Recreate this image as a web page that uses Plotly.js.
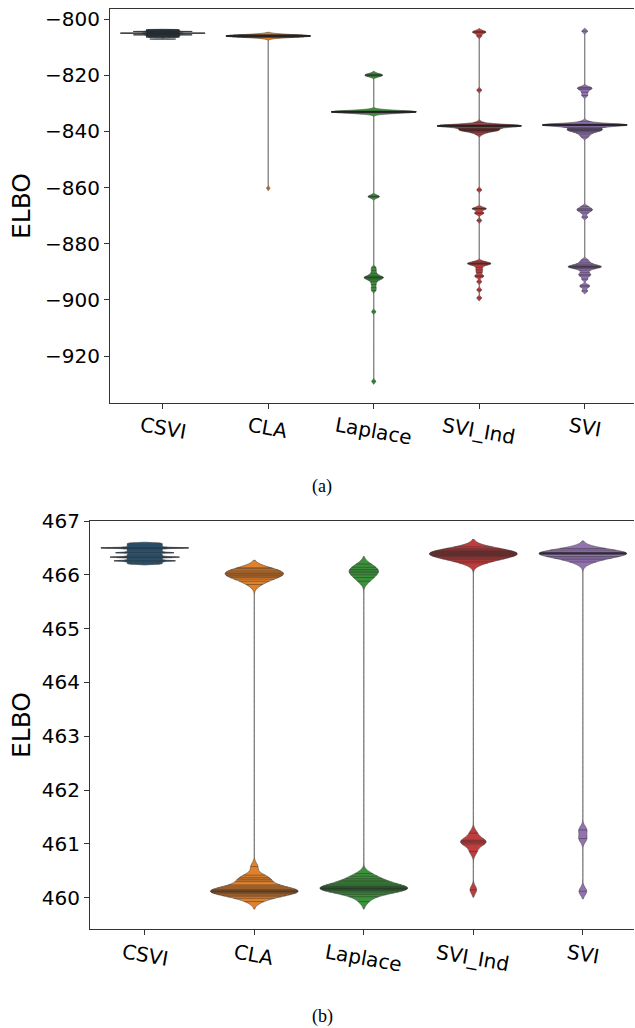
<!DOCTYPE html>
<html><head><meta charset="utf-8">
<script src="https://cdn.plot.ly/plotly-3.0.1.min.js"></script>
<style>html,body{margin:0;padding:0;background:#fff;} #chart{width:635px;height:1028px;}</style>
</head><body><div id="chart"></div>
<script>
// ---------------- data ----------------
const categories = ['CSVI', 'CLA', 'Laplace', 'SVI_Ind', 'SVI'];
const captions = ['(a)', '(b)'];
const yTitle = 'ELBO';

// panel (a) ELBO samples
const elboA_CSVI = [-803.7, -803.8, -803.9, -804.0, -804.1, -804.2, -804.3, -804.4, -804.4, -804.5, -804.6, -804.7, -804.8, -804.9, -805.0, -805.0, -805.0,
  -805.1, -805.2, -805.3, -805.4, -805.5, -805.6, -805.6, -805.7, -805.8, -805.9, -806.0, -806.1, -806.2, -806.3, -806.4, -806.5, -807.1];
const elboA_CLA = [-805.6, -805.7, -805.7, -805.8, -805.8, -805.8, -805.9, -805.9, -805.9, -805.9, -805.9, -806.0, -806.0, -806.0, -806.0, -806.0, -806.0, -806.0,
  -806.1, -806.1, -806.1, -806.1, -806.1, -806.2, -806.2, -806.2, -806.3, -806.3, -806.4, -806.5, -860.2];
const elboA_Laplace = [-819.6, -819.8, -820.0, -820.1, -820.3,
  -832.8, -832.8, -832.9, -832.9, -832.9, -832.9, -833.0, -833.0, -833.0, -833.0, -833.0, -833.0, -833.0, -833.0, -833.1, -833.1, -833.1, -833.1, -833.2, -833.2, -833.2, -833.3,
  -863.0, -863.2, -863.4,
  -888.5, -889.5, -890.5, -891.2, -891.7, -891.9, -892.0, -892.2, -892.5, -892.9, -893.5, -894.5, -895.6, -896.6,
  -904.2, -929.0];
const elboA_SVI_Ind = [-804.4, -804.6, -804.8, -806.0,
  -825.3,
  -836.8, -837.7, -837.8, -837.8, -837.8, -837.9, -837.9, -837.9, -837.9, -838.0, -838.0, -838.0, -838.0, -838.1, -838.1, -838.1, -838.2, -838.2, -838.3,
  -838.8, -839.0, -839.1, -839.3, -839.4, -839.5, -839.6, -839.7, -839.8, -840.0, -840.4, -841.0,
  -860.8,
  -867.4, -867.5, -867.6, -869.0, -869.2, -871.7,
  -886.4, -886.8, -887.0, -887.1, -887.2, -887.5, -888.4, -889.3, -890.2, -891.4, -891.7, -893.5, -896.4, -899.3];
const elboA_SVI = [-804.3,
  -824.3, -824.6, -825.0, -826.0, -827.2,
  -836.5, -837.4, -837.5, -837.5, -837.6, -837.6, -837.6, -837.7, -837.7, -837.7, -837.7, -837.8, -837.8, -837.8, -837.9, -837.9,
  -838.5, -838.8, -839.0, -839.2, -839.4, -839.5, -839.7, -839.9, -840.2, -840.6, -841.2, -842.0,
  -866.8, -867.5, -867.9, -868.2, -869.0, -870.5,
  -885.8, -886.6, -887.2, -887.6, -887.9, -888.1, -888.2, -888.3, -888.5, -888.8, -889.4, -890.3, -891.0, -891.4, -892.6, -894.8, -895.3, -896.8];

// panel (b) ELBO samples
const elboB_CSVI = [466.200, 466.215, 466.230, 466.245, 466.260, 466.260, 466.275, 466.290, 466.305, 466.320, 466.330, 466.330, 466.345, 466.360, 466.375,
  466.390, 466.410, 466.410, 466.425, 466.440, 466.455, 466.470, 466.485, 466.500, 466.500, 466.500, 466.515, 466.530, 466.545, 466.560, 466.575, 466.590];
const elboB_CLA = [465.82, 465.88, 465.92, 465.95, 465.97, 465.99, 466.00, 466.02, 466.03, 466.05, 466.07, 466.09, 466.12, 466.13,
  459.93, 459.99, 460.02, 460.04, 460.06, 460.08, 460.09, 460.10, 460.11, 460.12, 460.12, 460.13, 460.14, 460.15, 460.16, 460.18, 460.20, 460.22, 460.24,
  460.30, 460.33, 460.35, 460.38, 460.42, 460.58];
const elboB_Laplace = [465.88, 465.95, 466.00, 466.04, 466.07, 466.10, 466.14, 466.20,
  459.93, 460.02, 460.06, 460.09, 460.11, 460.13, 460.14, 460.15, 460.16, 460.17, 460.17, 460.18, 460.19, 460.20, 460.21, 460.22, 460.24, 460.26,
  460.29, 460.31, 460.33, 460.36, 460.40, 460.45];
const elboB_SVI_Ind = [466.22, 466.25, 466.28, 466.30, 466.32, 466.34, 466.35, 466.36, 466.37, 466.38, 466.39, 466.40, 466.41, 466.42, 466.43, 466.44, 466.45, 466.47, 466.49, 466.52,
  461.20, 461.07, 461.05, 461.03, 461.00, 460.86, 460.15];
const elboB_SVI = [466.24, 466.28, 466.31, 466.34, 466.38, 466.39, 466.39, 466.40, 466.40, 466.40, 466.41, 466.41, 466.42, 466.46, 466.49,
  461.10, 461.26, 460.12];

// ---------------- style ----------------
const colors = ['#3274a1', '#e1812c', '#3a923a', '#c03d3e', '#9372b2'];
const panelA = [elboA_CSVI, elboA_CLA, elboA_Laplace, elboA_SVI_Ind, elboA_SVI];
const panelB = [elboB_CSVI, elboB_CLA, elboB_Laplace, elboB_SVI_Ind, elboB_SVI];
const bwA = [0.05, 0.45, 0.5, 0.5, 0.5];
const bwB = [0.008, 0.07, 0.07, 0.07, 0.07];
const VW = 0.8;
const FONT = 'DejaVu Sans, sans-serif';
const W = 635, H = 1028;

function kdeFn(vals, h) {
  const c = 1 / (vals.length * h * Math.sqrt(2 * Math.PI));
  return t => { let s = 0; for (const v of vals) { const z = (t - v) / h; s += Math.exp(-0.5 * z * z); } return s * c; };
}
function maxKDE(vals, h) {
  const f = kdeFn(vals, h);
  const lo = Math.min(...vals) - 2 * h, hi = Math.max(...vals) + 2 * h;
  const dist = hi - lo, n = Math.ceil(dist / (h / 3)), step = dist / n;
  let m = 0;
  for (let t = lo; t < hi + step / 2; t += step) m = Math.max(m, f(t));
  return m;
}

const traces = [];
function addPanel(data, bws, xa, ya, tag) {
  data.forEach((vals, i) => {
    traces.push({
      type: 'violin', y: vals, x0: i, name: tag + categories[i], scalegroup: tag + i,
      xaxis: xa, yaxis: ya, width: VW, scalemode: 'width', spanmode: 'soft', bandwidth: bws[i],
      points: false, box: {visible: false}, meanline: {visible: false},
      fillcolor: colors[i], line: {color: '#4a4a4a', width: 0.6}, opacity: 1,
      hoverinfo: 'skip', showlegend: false
    });
  });
  const xs = [], ys = [];
  data.forEach((vals, i) => {
    const f = kdeFn(vals, bws[i]), m = maxKDE(vals, bws[i]);
    vals.forEach(v => { const w = (VW / 2) * f(v) / m; xs.push(i - w, i + w, null); ys.push(v, v, null); });
  });
  traces.push({type: 'scatter', mode: 'lines', x: xs, y: ys, xaxis: xa, yaxis: ya,
    line: {color: 'rgba(40,40,40,0.62)', width: 0.7}, hoverinfo: 'skip', showlegend: false, connectgaps: false});
}
addPanel(panelA, bwA, 'x', 'y', 'a');
addPanel(panelB, bwB, 'x2', 'y2', 'b');

function xax(left, anchor) {
  return {domain: [left / W, 634 / W], range: [-0.5, 4.467], anchor: anchor, showline: true, linecolor: '#333', linewidth: 1,
    mirror: true, ticks: 'outside', ticklen: 5, tickwidth: 1, tickcolor: '#333', tickvals: [0, 1, 2, 3, 4],
    showticklabels: false, showgrid: false, zeroline: false, automargin: false};
}
function yax(top, bottom, range, dtick, anchor, standoff) {
  return {domain: [1 - bottom / H, 1 - top / H], range: range, dtick: dtick, tick0: 0, anchor: anchor,
    showline: true, linecolor: '#333', linewidth: 1, ticks: 'outside', ticklen: 5, tickwidth: 1, tickcolor: '#333',
    tickfont: {family: FONT, size: 20, color: '#000'}, showgrid: false, zeroline: false, automargin: false,
    title: {text: yTitle, font: {family: FONT, size: 25, color: '#000'}, standoff: standoff}};
}

const annotations = [];
categories.forEach((c, i) => {
  annotations.push({xref: 'x', yref: 'paper', x: i, y: 1 - 410 / H, text: c, textangle: 10, xanchor: 'center', yanchor: 'top',
    showarrow: false, font: {family: FONT, size: 20, color: '#000'}});
  annotations.push({xref: 'x2', yref: 'paper', x: i, y: 1 - 937 / H, text: c, textangle: 10, xanchor: 'center', yanchor: 'top',
    showarrow: false, font: {family: FONT, size: 20, color: '#000'}});
});
[[486], [1016]].forEach((p, k) => {
  annotations.push({xref: 'paper', yref: 'paper', x: 322 / W, y: 1 - p[0] / H, text: captions[k], xanchor: 'center', yanchor: 'middle',
    showarrow: false, font: {family: 'Liberation Serif, serif', size: 18, color: '#000'}});
});

const layout = {
  width: W, height: H, margin: {l: 0, r: 0, t: 0, b: 0}, paper_bgcolor: '#fff', plot_bgcolor: '#fff',
  showlegend: false, violinmode: 'overlay',
  xaxis: xax(110, 'y'), yaxis: yax(9, 403, [-936.7, -796.4], 20, 'x', 7),
  xaxis2: xax(90, 'y2'), yaxis2: yax(521, 929, [459.42, 467.0], 1, 'x2', 4),
  annotations: annotations
};
Plotly.newPlot('chart', traces, layout, {staticPlot: true, displayModeBar: false});
</script></body></html>
